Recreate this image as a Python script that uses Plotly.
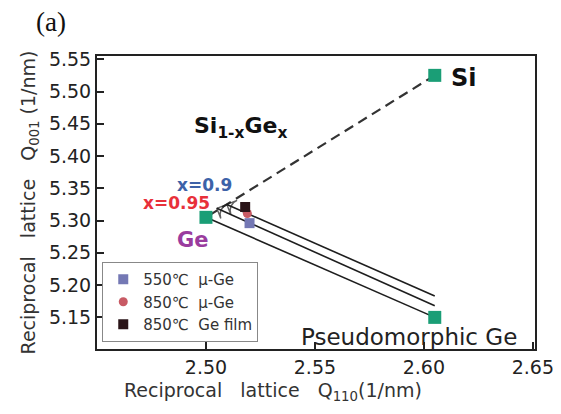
import plotly.graph_objects as go

# ---- data ----
si_point = (2.605, 5.525)          # Si reference
ge_point = (2.500, 5.305)          # relaxed Ge
pseudo_ge_point = (2.605, 5.150)   # pseudomorphic Ge

x09_point = (2.5096, 5.325)        # Si1-xGex, x=0.9
x095_point = (2.505, 5.319)        # Si1-xGex, x=0.95
x09_end = (2.605, 5.183)           # strain line end for x=0.9
x095_end = (2.605, 5.168)          # strain line end for x=0.95

s550_mu_q110 = [2.520]
s550_mu_q001 = [5.296]
s850_mu_q110 = [2.519]
s850_mu_q001 = [5.311]
s850_film_q110 = [2.518]
s850_film_q001 = [5.321]

x_ticks = [2.50, 2.55, 2.60, 2.65]
y_ticks = [5.15, 5.20, 5.25, 5.30, 5.35, 5.40, 5.45, 5.50, 5.55]

GREEN = "#1a9e76"
LINE = "#1e1e1e"
FONT = "DejaVu Sans"

fig = go.Figure()

# dashed Vegard line Si -> Ge
fig.add_trace(go.Scatter(x=[si_point[0], ge_point[0]], y=[si_point[1], ge_point[1]],
                         mode="lines", line=dict(color="#333333", width=2.2, dash="10px,6px"),
                         showlegend=False, hoverinfo="skip"))
# strain lines
fig.add_trace(go.Scatter(x=[ge_point[0], pseudo_ge_point[0]], y=[ge_point[1], pseudo_ge_point[1]],
                         mode="lines", line=dict(color=LINE, width=1.6),
                         showlegend=False, hoverinfo="skip"))
for tip, end in [(x09_point, x09_end), (x095_point, x095_end)]:
    fig.add_trace(go.Scatter(x=[end[0], tip[0]], y=[end[1], tip[1]],
                             mode="lines+markers", line=dict(color=LINE, width=1.6),
                             marker=dict(symbol="arrow-wide-open", size=[0, 11], angleref="previous",
                                         color=LINE, line=dict(width=1.4, color=LINE)),
                             showlegend=False, hoverinfo="skip"))

# reference points
fig.add_trace(go.Scatter(x=[si_point[0], ge_point[0], pseudo_ge_point[0]],
                         y=[si_point[1], ge_point[1], pseudo_ge_point[1]],
                         mode="markers", marker=dict(symbol="square", size=13, color=GREEN),
                         showlegend=False, hoverinfo="skip"))

# samples
fig.add_trace(go.Scatter(x=s550_mu_q110, y=s550_mu_q001, mode="markers",
                         marker=dict(symbol="square", size=10, color="#7478b4"),
                         name="550℃  μ-Ge"))
fig.add_trace(go.Scatter(x=s850_mu_q110, y=s850_mu_q001, mode="markers",
                         marker=dict(symbol="circle", size=9, color="#c85a64"),
                         name="850℃  μ-Ge"))
fig.add_trace(go.Scatter(x=s850_film_q110, y=s850_film_q001, mode="markers",
                         marker=dict(symbol="square", size=10, color="#2a1418"),
                         name="850℃  Ge film"))

BOLD = "DejaVu Sans"
# text labels
fig.add_annotation(x=si_point[0], y=si_point[1], text="<b>Si</b>", showarrow=False,
                   xanchor="left", xshift=14, yshift=-3,
                   font=dict(family=BOLD, size=24, color="#111111"))
fig.add_annotation(x=2.516, y=5.4446, text="<b>Si<sub>1-x</sub>Ge<sub>x</sub></b>", showarrow=False,
                   font=dict(family=BOLD, size=22, color="#111111"))
fig.add_annotation(x=2.4995, y=5.355, text="<b>x=0.9</b>", showarrow=False,
                   font=dict(family=BOLD, size=17, color="#3d62a8"))
fig.add_annotation(x=2.4867, y=5.327, text="<b>x=0.95</b>", showarrow=False,
                   font=dict(family=BOLD, size=17, color="#e8303a"))
fig.add_annotation(x=2.494, y=5.2697, text="<b>Ge</b>", showarrow=False,
                   font=dict(family=BOLD, size=21, color="#9a3c9e"))
fig.add_annotation(x=2.5931, y=5.1196, text="Pseudomorphic Ge", showarrow=False,
                   font=dict(family=FONT, size=23, color="#222222"))

# panel label
fig.add_annotation(x=-0.105, y=1.116, xref="paper", yref="paper", text="(a)", showarrow=False,
                   xanchor="center", yanchor="middle", borderpad=0,
                   font=dict(family="Liberation Serif", size=27, color="#111111"))

# x axis title (offset left of the plot centre as in the original)
fig.add_annotation(x=0.402, y=-0.145, xref="paper", yref="paper",
                   text="Reciprocal   lattice   Q<sub>110</sub>(1/nm)", showarrow=False,
                   xanchor="center", yanchor="middle", borderpad=0,
                   font=dict(family=FONT, size=19, color="#333333"))

# page body has an 8px margin: figure is sized/offset so the plot area lands where the original has it
fig.update_layout(
    width=545, height=398,
    margin=dict(l=89, r=18, t=48, b=57),
    paper_bgcolor="white", plot_bgcolor="white",
    font=dict(family=FONT, color="#222222"),
    legend=dict(x=0.012, y=0.297, xanchor="left", yanchor="top",
                bordercolor="#888888", borderwidth=1, bgcolor="white",
                font=dict(family=FONT, size=15, color="#333333"),
                tracegroupgap=0, itemwidth=30),
)

fig.update_xaxes(range=[2.45, 2.651], tickvals=x_ticks, ticktext=[f"{v:.2f}" for v in x_ticks],
                 ticks="inside", ticklen=7, tickwidth=1.5, tickcolor="#222222",
                 showline=True, linecolor="#222222", linewidth=2, mirror=True,
                 showgrid=False, zeroline=False, automargin=False, ticklabeloverflow="allow",
                 tickfont=dict(family=FONT, size=19, color="#222222"))
fig.update_yaxes(range=[5.101, 5.555], tickvals=y_ticks, ticktext=[f"{v:.2f}" for v in y_ticks],
                 ticks="inside", ticklen=7, tickwidth=1.5, tickcolor="#222222",
                 showline=True, linecolor="#222222", linewidth=2, mirror=True,
                 showgrid=False, zeroline=False, automargin=False,
                 tickfont=dict(family=FONT, size=19, color="#222222"),
                 title=dict(text="Reciprocal   lattice   Q<sub>001</sub> (1/nm)",
                            font=dict(family=FONT, size=19, color="#333333"), standoff=8))

fig.write_html("out.html")
